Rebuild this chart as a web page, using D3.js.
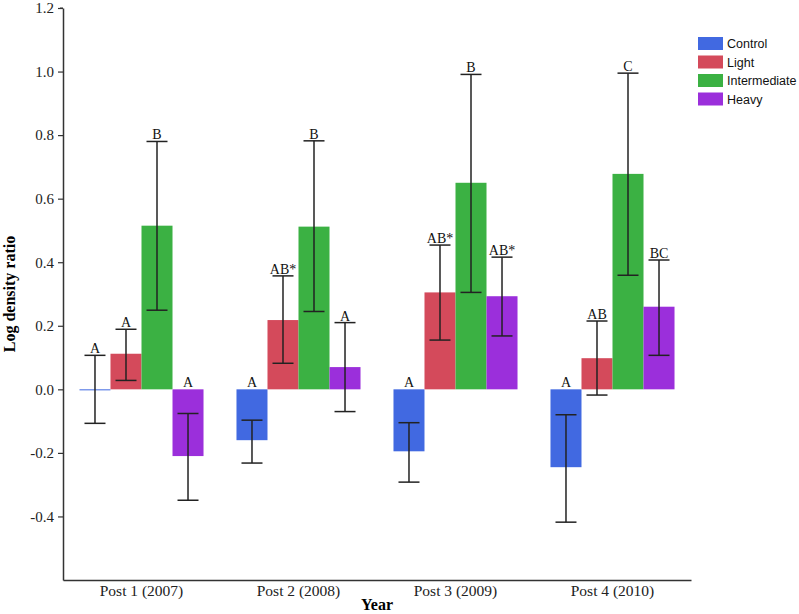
<!DOCTYPE html>
<html>
<head>
<meta charset="utf-8">
<script src="https://cdn.jsdelivr.net/npm/d3@7"></script>
<style>
  body { margin: 0; background: #fff; }
  svg { display: block; }
</style>
</head>
<body>
<div id="chart"></div>
<script>
// data
const years = ["Post 1 (2007)", "Post 2 (2008)", "Post 3 (2009)", "Post 4 (2010)"];
const treatments = ["Control", "Light", "Intermediate", "Heavy"];
const colors = ["#4169e1", "#d44a5b", "#3bb143", "#9b2fdb"];

// mean log density ratio, one array per treatment (by year)
const control      = [0.0,   -0.16,  -0.195, -0.245];
const light        = [0.112,  0.218,  0.305,  0.098];
const intermediate = [0.515,  0.512,  0.650,  0.678];
const heavy        = [-0.21,  0.07,   0.293,  0.26];

// error bar ends (low / high)
const controlLo      = [-0.107, -0.097, -0.105, -0.08];
const controlHi      = [ 0.107, -0.232, -0.292, -0.418];
const lightLo        = [ 0.028,  0.082,  0.155, -0.018];
const lightHi        = [ 0.189,  0.357,  0.454,  0.215];
const intermediateLo = [ 0.249,  0.245,  0.305,  0.359];
const intermediateHi = [ 0.780,  0.782,  0.991,  0.995];
const heavyLo        = [-0.076, -0.07,   0.168,  0.107];
const heavyHi        = [-0.349,  0.21,   0.416,  0.407];

// significance letters
const controlLbl      = ["A", "A", "A", "A"];
const lightLbl        = ["A", "AB*", "AB*", "AB"];
const intermediateLbl = ["B", "B", "B", "C"];
const heavyLbl        = ["A", "A", "AB*", "BC"];

const yTicks = [1.2, 1.0, 0.8, 0.6, 0.4, 0.2, 0.0, -0.2, -0.4];

const series = [
  {name: "Control", v: control, lo: controlLo, hi: controlHi, lbl: controlLbl},
  {name: "Light", v: light, lo: lightLo, hi: lightHi, lbl: lightLbl},
  {name: "Intermediate", v: intermediate, lo: intermediateLo, hi: intermediateHi, lbl: intermediateLbl},
  {name: "Heavy", v: heavy, lo: heavyLo, hi: heavyHi, lbl: heavyLbl}
];

const width = 799, height = 614;
const m = {left: 63, right: 108, top: 8, bottom: 34};

const svg = d3.select("#chart").append("svg")
  .attr("width", width)
  .attr("height", height);

const x0 = d3.scaleBand().domain(years)
  .range([m.left, width - m.right])
  .paddingInner(0.21).paddingOuter(0.105);
const x1 = d3.scaleBand().domain(treatments)
  .range([0, x0.bandwidth()]);
const y = d3.scaleLinear().domain([-0.6, 1.2])
  .range([height - m.bottom, m.top]);
const color = d3.scaleOrdinal(treatments, colors);

const serif = "'Liberation Serif', 'Times New Roman', serif";

// bars, error bars, letters
const rows = [];
series.forEach(s => {
  years.forEach((yr, i) => {
    rows.push({t: s.name, yr, v: s.v[i], lo: s.lo[i], hi: s.hi[i], lbl: s.lbl[i]});
  });
});

const g = svg.append("g");
const cx = d => x0(d.yr) + x1(d.t) + x1.bandwidth() / 2;

g.selectAll("rect.bar").data(rows).join("rect")
  .attr("class", "bar")
  .attr("x", d => x0(d.yr) + x1(d.t))
  .attr("width", x1.bandwidth())
  .attr("y", d => y(Math.max(0, d.v)))
  .attr("height", d => Math.max(1, Math.abs(y(d.v) - y(0))))
  .attr("fill", d => color(d.t));

const capW = 10.5;
g.selectAll("line.err").data(rows).join("line")
  .attr("x1", cx).attr("x2", cx)
  .attr("y1", d => y(d.lo)).attr("y2", d => y(d.hi))
  .attr("stroke", "#222").attr("stroke-width", 1.5);
g.selectAll("line.capLo").data(rows).join("line")
  .attr("x1", d => cx(d) - capW).attr("x2", d => cx(d) + capW)
  .attr("y1", d => y(d.lo)).attr("y2", d => y(d.lo))
  .attr("stroke", "#222").attr("stroke-width", 1.5);
g.selectAll("line.capHi").data(rows).join("line")
  .attr("x1", d => cx(d) - capW).attr("x2", d => cx(d) + capW)
  .attr("y1", d => y(d.hi)).attr("y2", d => y(d.hi))
  .attr("stroke", "#222").attr("stroke-width", 1.5);

g.selectAll("text.lbl").data(rows).join("text")
  .attr("x", cx)
  .attr("y", d => y(Math.max(0, d.hi, d.lo, d.v)) - 2)
  .attr("text-anchor", "middle")
  .attr("font-family", serif)
  .attr("font-size", 14)
  .attr("fill", "#111")
  .text(d => d.lbl);

// axes
const yAxis = svg.append("g")
  .attr("transform", `translate(${m.left},0)`)
  .call(d3.axisLeft(y).tickValues(yTicks).tickFormat(d3.format(".1f")).tickSize(5).tickSizeOuter(0).tickPadding(4));
yAxis.select(".domain").attr("stroke", "#333").attr("stroke-width", 1.5);
yAxis.selectAll(".tick line").attr("stroke", "#333").attr("stroke-width", 1.2);
yAxis.selectAll("text")
  .attr("font-family", serif).attr("font-size", 15).attr("fill", "#222")
  .text(d => d3.format(".1f")(d).replace("−", "-"));
// small tick at the top of the axis
yAxis.append("line").attr("x1", -3).attr("x2", 0)
  .attr("y1", y(1.2)).attr("y2", y(1.2)).attr("stroke", "#333");

const xAxis = svg.append("g")
  .attr("transform", `translate(0,${y(-0.6)})`)
  .call(d3.axisBottom(x0).tickSize(0).tickSizeOuter(0).tickPadding(5));
xAxis.select(".domain").attr("stroke", "#333").attr("stroke-width", 1.5);
xAxis.selectAll("text")
  .attr("font-family", serif).attr("font-size", 15.5).attr("fill", "#222");

svg.append("text")
  .attr("x", (m.left + width - m.right) / 2)
  .attr("y", 610)
  .attr("text-anchor", "middle")
  .attr("font-family", serif).attr("font-weight", "bold").attr("font-size", 16)
  .text("Year");

svg.append("text")
  .attr("transform", `translate(15,${(y(1.2) + y(-0.6)) / 2}) rotate(-90)`)
  .attr("text-anchor", "middle")
  .attr("font-family", serif).attr("font-weight", "bold").attr("font-size", 16)
  .text("Log density ratio");

// legend
const legend = svg.append("g").attr("transform", "translate(698,37)");
const li = legend.selectAll("g").data(treatments).join("g")
  .attr("transform", (d, i) => `translate(0,${i * 18.5})`);
li.append("rect").attr("width", 25).attr("height", 13).attr("fill", d => color(d));
li.append("text").attr("x", 29).attr("y", 11)
  .attr("font-family", "'Liberation Sans', Arial, sans-serif").attr("font-size", 12.5)
  .attr("fill", "#111")
  .text(d => d);
</script>
</body>
</html>
